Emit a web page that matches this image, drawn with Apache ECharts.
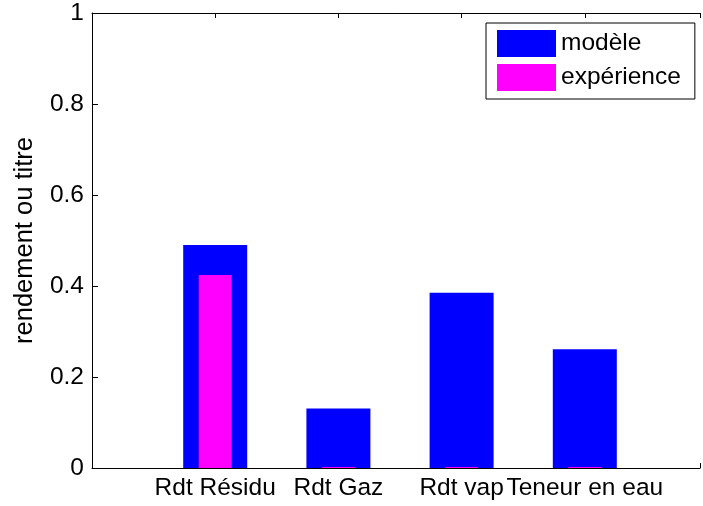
<!DOCTYPE html>
<html>
<head>
<meta charset="utf-8">
<script src="https://cdn.jsdelivr.net/npm/echarts@6/dist/echarts.min.js"></script>
<style>
  html, body { margin: 0; padding: 0; background: #fff; }
  #chart { width: 703px; height: 506px; }
</style>
</head>
<body>
<div id="chart"></div>
<script>
// Bar groups along the x axis (positions 1..4)
const categories = ['Rdt Résidu', 'Rdt Gaz', 'Rdt vap', 'Teneur en eau'];
// Simulated values
const modelValues = [0.49, 0.131, 0.385, 0.261];
// Measured values
const experimentValues = [0.424, 0, 0, 0];
// Y tick spacing
const yTicks = [0, 0.2, 0.4, 0.6, 0.8, 1];

const FONT = 'Liberation Sans, Arial, sans-serif';
const FS = 24.5;

const chart = echarts.init(document.getElementById('chart'), null, { renderer: 'canvas' });

const toPairs = (vals) => vals.map((v, i) => [i + 1, v]);

// The x range runs a little past the last group so the plot is cut at the right edge
const X_MAX = 4.935;

const xAxisBase = {
  type: 'value',
  min: 0,
  max: X_MAX,
  interval: 1,
  splitLine: { show: false },
  axisLine: { show: true, onZero: false, lineStyle: { color: '#000', width: 1 } },
  axisTick: { show: true, inside: true, length: 5, lineStyle: { color: '#000' } }
};

chart.setOption({
  animation: false,
  backgroundColor: '#fff',
  textStyle: { fontFamily: FONT },
  grid: { left: 92, right: 0, top: 13, bottom: 38, containLabel: false },
  legend: {
    orient: 'vertical',
    left: 486,
    top: 23,
    padding: [7, 14, 8, 11],
    itemWidth: 59,
    itemHeight: 27,
    itemGap: 7,
    icon: 'rect',
    borderColor: '#000',
    borderWidth: 1,
    backgroundColor: '#fff',
    textStyle: { fontSize: FS, color: '#000', fontFamily: FONT },
    data: ['modèle', 'expérience']
  },
  xAxis: [
    Object.assign({}, xAxisBase, {
      position: 'bottom',
      axisLabel: {
        show: true,
        margin: 8,
        color: '#000',
        fontSize: FS,
        fontFamily: FONT,
        formatter: (v) => (v >= 1 && v <= categories.length ? categories[v - 1] : '')
      }
    }),
    Object.assign({}, xAxisBase, {
      position: 'top',
      axisLabel: { show: false }
    })
  ],
  yAxis: {
    type: 'value',
    min: yTicks[0],
    max: yTicks[yTicks.length - 1],
    interval: yTicks[1] - yTicks[0],
    name: 'rendement ou titre',
    nameLocation: 'middle',
    nameRotate: 90,
    nameGap: 54,
    nameTextStyle: { fontSize: 25.5, color: '#000', fontFamily: FONT },
    splitLine: { show: false },
    axisLine: { show: true, lineStyle: { color: '#000', width: 1 } },
    axisTick: { show: true, inside: true, length: 6, lineStyle: { color: '#000' } },
    axisLabel: { margin: 8, color: '#000', fontSize: FS, fontFamily: FONT }
  },
  series: [
    {
      name: 'modèle',
      type: 'bar',
      xAxisIndex: 0,
      barWidth: 64,
      itemStyle: { color: '#0000ff' },
      data: toPairs(modelValues),
      z: 3
    },
    {
      name: 'expérience',
      type: 'bar',
      xAxisIndex: 1,
      barWidth: 33,
      barMinHeight: 1,
      itemStyle: { color: '#ff00ff' },
      data: toPairs(experimentValues),
      z: 4
    }
  ]
});
</script>
</body>
</html>
